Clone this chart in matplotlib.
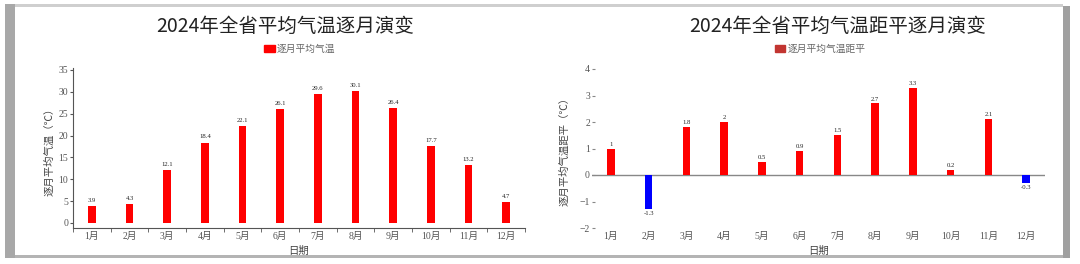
import numpy as np
import matplotlib
matplotlib.use("Agg")
import matplotlib.pyplot as plt
from matplotlib.patches import Rectangle, Patch

plt.rcParams['font.family'] = ['Noto Sans CJK SC', 'DejaVu Sans']

months = ['1月', '2月', '3月', '4月', '5月', '6月', '7月', '8月', '9月', '10月', '11月', '12月']
temp = [3.9, 4.3, 12.1, 18.4, 22.1, 26.1, 29.6, 30.1, 26.4, 17.7, 13.2, 4.7]
anom = [1, -1.3, 1.8, 2, 0.5, 0.9, 1.5, 2.7, 3.3, 0.2, 2.1, -0.3]
anom_labels = ['1', '-1.3', '1.8', '2', '0.5', '0.9', '1.5', '2.7', '3.3', '0.2', '2.1', '-0.3']

W, H = 1080, 264
fig = plt.figure(figsize=(W / 100, H / 100), dpi=100)


def box(x0, y0, x1, y1):
    # pixel box (top-left origin) -> figure fractions
    return [x0 / W, 1 - y1 / H, (x1 - x0) / W, (y1 - y0) / H]


# card frame / shadow
for (x0, y0, x1, y1, c) in [(5, 4, 1063, 7, '#cfcfcf'), (5, 255, 1070, 258, '#b4b4b4'),
                            (5, 4, 15, 258, '#a8a8a8'), (1063, 6, 1070, 258, '#a0a0a0')]:
    fig.patches.append(Rectangle((x0 / W, 1 - y1 / H), (x1 - x0) / W, (y1 - y0) / H,
                                 transform=fig.transFigure, color=c, lw=0, zorder=0))

serif = ['Liberation Serif', 'Noto Sans CJK SC']
x = np.arange(1, 13)
bw = 0.2

# ---------- left chart ----------
ax1 = fig.add_axes(box(73, 70, 525, 228))
ax1.bar(x, temp, width=bw, color='#ff0000', zorder=3)
for xi, v in zip(x, temp):
    ax1.text(xi, v + 0.7, f'{v}', ha='center', va='bottom', fontsize=4.8, color='#222', family=serif)
ax1.set_xlim(0.5, 12.5)
ax1.set_ylim(-1.15, 35)
ax1.set_yticks(np.arange(0, 36, 5))
ax1.set_xticks(x)
ax1.set_xticklabels(months)
ax1.set_xticks(np.arange(0.5, 13, 1), minor=True)
ax1.tick_params(axis='x', which='major', length=0, pad=2.5, labelsize=7, labelcolor='#555')
ax1.tick_params(axis='x', which='minor', length=3, color='#555')
ax1.tick_params(axis='y', length=2, pad=1.5, labelsize=7, labelcolor='#555', color='#555')
for lab in ax1.get_xticklabels() + ax1.get_yticklabels():
    lab.set_family(serif)
for s in ['top', 'right']:
    ax1.spines[s].set_visible(False)
ax1.spines['left'].set_color('#555')
ax1.spines['bottom'].set_color('#555')
ax1.spines['left'].set_bounds(-1.15, 35.4)
ax1.set_ylabel('逐月平均气温（℃）', fontsize=7.5, color='#444', labelpad=3)
fig.text(299 / W, 1 - 251 / H, '日期', ha='center', va='center', fontsize=7.5, color='#444')
fig.text(285 / W, 1 - 26 / H, '2024年全省平均气温逐月演变', ha='center', va='center',
         fontsize=14, color='#222')
fig.legend(handles=[Patch(color='#ff0000')], labels=['逐月平均气温'],
           loc='center', bbox_to_anchor=(300 / W, 1 - 49 / H), frameon=False,
           fontsize=7, labelcolor='#666', handlelength=1.1, handleheight=0.8, handletextpad=0.2)

# ---------- right chart ----------
ax2 = fig.add_axes(box(592, 69, 1045, 228))
cols = ['#ff0000' if v >= 0 else '#0000ff' for v in anom]
ax2.bar(x, anom, width=bw, color=cols, zorder=3)
for xi, v, t in zip(x, anom, anom_labels):
    if v >= 0:
        ax2.text(xi, v + 0.07, t, ha='center', va='bottom', fontsize=4.8, color='#222', family=serif)
    else:
        ax2.text(xi, v - 0.07, t, ha='center', va='top', fontsize=4.8, color='#222', family=serif)
ax2.axhline(0, color='#888', lw=1, zorder=2)
ax2.set_xlim(0.5, 12.5)
ax2.set_ylim(-2, 4)
ax2.set_yticks(np.arange(-2, 5, 1))
ax2.set_xticks(x)
ax2.set_xticklabels(months)
ax2.tick_params(axis='x', length=0, pad=2.5, labelsize=7, labelcolor='#555')
ax2.tick_params(axis='y', length=2, pad=1.5, labelsize=7, labelcolor='#555', color='#888',
                direction='in')
for lab in ax2.get_xticklabels() + ax2.get_yticklabels():
    lab.set_family(serif)
for s in ['top', 'right', 'left', 'bottom']:
    ax2.spines[s].set_visible(False)
ax2.set_ylabel('逐月平均气温距平（℃）', fontsize=7.5, color='#444', labelpad=7)
fig.text(819 / W, 1 - 251 / H, '日期', ha='center', va='center', fontsize=7.5, color='#444')
fig.text(838 / W, 1 - 26 / H, '2024年全省平均气温距平逐月演变', ha='center', va='center',
         fontsize=14, color='#222')
fig.legend(handles=[Patch(color='#c23531')], labels=['逐月平均气温距平'],
           loc='center', bbox_to_anchor=(820 / W, 1 - 49 / H), frameon=False,
           fontsize=7, labelcolor='#666', handlelength=1.1, handleheight=0.8, handletextpad=0.2)

fig.savefig('out.png', dpi=100)
